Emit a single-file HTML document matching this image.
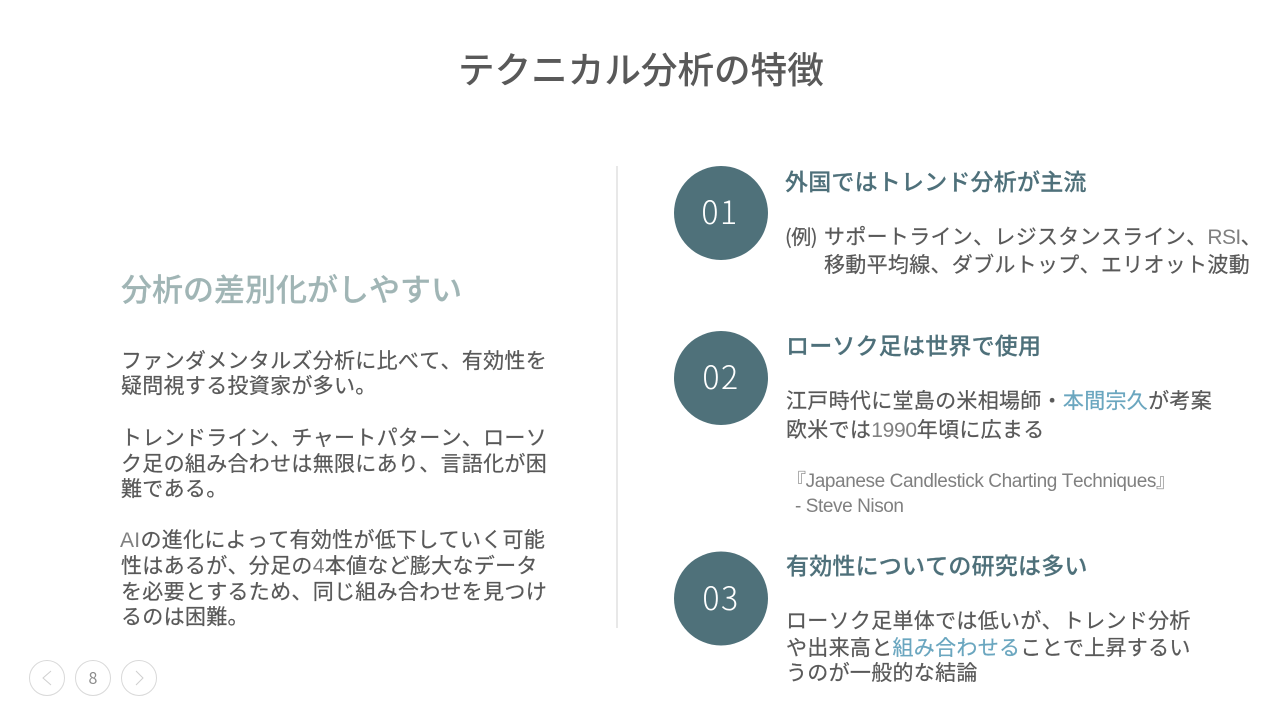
<!DOCTYPE html>
<html lang="ja"><head><meta charset="utf-8"><style>
html,body{margin:0;padding:0;background:#fff;width:1280px;height:720px;overflow:hidden}
svg{display:block}
text{font-family:"Liberation Sans","Noto Sans CJK JP",sans-serif;fill:#595959;font-kerning:none;font-feature-settings:"kern" 0,"palt" 0;text-spacing-trim:space-all}
.j{font-family:"Noto Sans CJK JP",sans-serif}
.r{font-size:21px;letter-spacing:.3px;stroke:#595959;stroke-width:.22px}
.w{letter-spacing:.3px}
.h{font-size:23px;letter-spacing:.2px;font-weight:500;fill:#4e707a;stroke:#4e707a;stroke-width:.2px}
.l{font-family:"Liberation Sans",sans-serif;font-weight:400;fill:#808080;stroke:none}
.n{font-family:"Noto Sans CJK JP",sans-serif;font-weight:300;font-size:32px;letter-spacing:1.5px;fill:#fff;text-anchor:middle}
.a{fill:#6aa6bf;stroke:#6aa6bf}
</style></head><body>
<svg width="1280" height="720" viewBox="0 0 1280 720" xmlns="http://www.w3.org/2000/svg">
<text class="j" x="458" y="83" font-size="36.6" font-weight="500">テクニカル分析の特徴</text>
<line x1="617" y1="166" x2="617" y2="628" stroke="#d9d9d9" stroke-width="1.2"/>

<text class="j" x="121" y="301" font-size="31" font-weight="500" style="fill:#a0b5b5;stroke:#a0b5b5;stroke-width:.2px">分析の差別化がしやすい</text>

<text class="j r" x="121" y="368">ファンダメンタルズ分析に比べて、有効性を</text>
<text class="j r" x="121" y="393">疑問視する投資家が多い。</text>
<text class="j r" x="121" y="445">トレンドライン、チャートパターン、ローソ</text>
<text class="j r" x="121" y="471">ク足の組み合わせは無限にあり、言語化が困</text>
<text class="j r" x="121" y="496">難である。</text>
<text class="j r" x="120" y="547"><tspan class="l">AI</tspan>の進化によって有効性が低下していく可能</text>
<text class="j r" x="121" y="573">性はあるが、分足の<tspan class="l">4</tspan>本値など膨大なデータ</text>
<text class="j r" x="121" y="599">を必要とするため、同じ組み合わせを見つけ</text>
<text class="j r" x="121" y="624">るのは困難。</text>

<circle cx="721" cy="213" r="47" fill="#4f717a"/>
<circle cx="721" cy="378" r="47" fill="#4f717a"/>
<circle cx="721" cy="598.5" r="47" fill="#4f717a"/>
<text class="n" x="720" y="224">01</text>
<text class="n" x="721" y="389">02</text>
<text class="n" x="721" y="610">03</text>

<text class="j h" x="785" y="190">外国ではトレンド分析が主流</text>
<text class="j r" x="785" y="244" style="font-size:20px;letter-spacing:-.5px">(例)</text>
<text class="j r w" x="824" y="244">サポートライン、レジスタンスライン、<tspan class="l" style="letter-spacing:-.6px">RSI</tspan>、</text>
<text class="j r w" x="824" y="272">移動平均線、ダブルトップ、エリオット波動</text>

<text class="j h" x="786" y="354">ローソク足は世界で使用</text>
<text class="j r" x="786" y="408">江戸時代に堂島の米相場師・<tspan class="a">本間宗久</tspan>が考案</text>
<text class="j r" x="786" y="437">欧米では<tspan class="l" style="letter-spacing:-.3px">1990</tspan>年頃に広まる</text>
<text x="787" y="487" font-size="19" textLength="388" style="fill:#808080">『Japanese Candlestick Charting Techniques』</text>
<text class="l" x="795" y="512" font-size="19" textLength="109">- Steve Nison</text>

<text class="j h" x="786" y="574">有効性についての研究は多い</text>
<text class="j r" x="786" y="628">ローソク足単体では低いが、トレンド分析</text>
<text class="j r" x="786" y="655">や出来高と<tspan class="a">組み合わせる</tspan>ことで上昇するい</text>
<text class="j r" x="786" y="680">うのが一般的な結論</text>

<g fill="none" stroke="#d9d9d9" stroke-width="1">
<circle cx="47" cy="678" r="17.5"/><circle cx="93" cy="678" r="17.5"/><circle cx="139" cy="678" r="17.5"/>
<polyline points="51,671 43,678 51,685" stroke="#cfcfcf"/>
<polyline points="136,671 143,678 136,685" stroke="#cfcfcf"/>
</g>
<text class="j" x="93" y="684" font-size="16" text-anchor="middle" style="fill:#8c8c8c">8</text>
</svg>
</body></html>
